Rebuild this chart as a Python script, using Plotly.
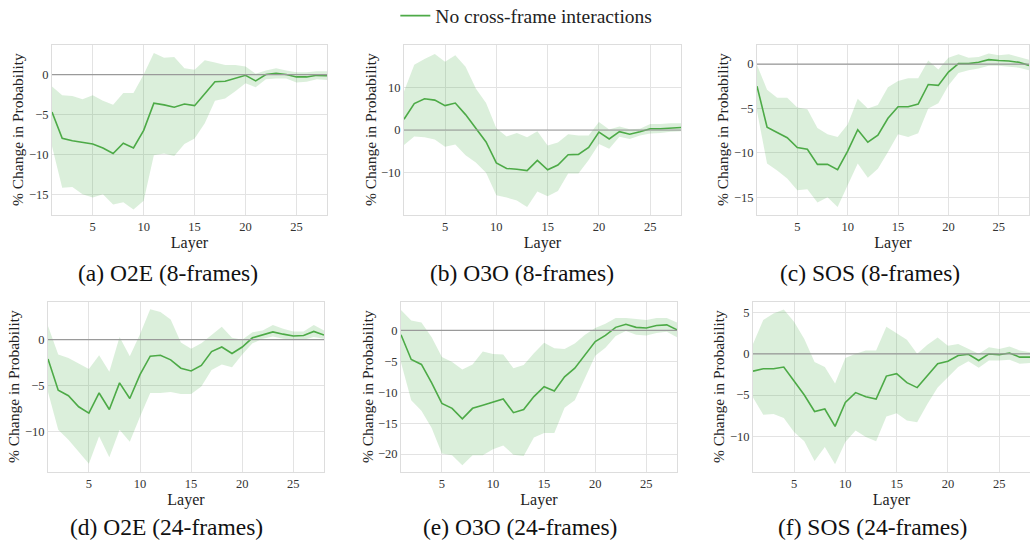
import plotly.graph_objects as go

layers = list(range(1, 29))

# (a) O2E (8-frames)
a_mean = [-4.7, -8.0, -8.3, -8.5, -8.7, -9.2, -9.9, -8.6, -9.2, -7.0, -3.6, -3.8, -4.1, -3.7,
          -3.9, -2.4, -0.9, -0.85, -0.5, -0.1, -0.8, 0.0, 0.15, 0.0, -0.3, -0.3, -0.1, -0.15]
a_upper = [-1.5, -2.6, -2.7, -3.1, -2.6, -3.3, -3.8, -2.3, -2.3, 0.0, 2.7, 2.1, 2.2, 0.8,
           0.6, 1.8, 1.5, 1.2, 1.2, 1.0, 0.1, 0.5, 0.8, 0.5, 0.3, 0.3, 0.4, 0.4]
a_lower = [-9.0, -14.2, -14.1, -15.0, -15.4, -15.0, -16.3, -16.0, -16.9, -15.8, -10.1, -9.9, -10.2, -8.7,
           -8.0, -6.1, -3.3, -3.0, -2.1, -1.1, -1.6, -0.6, -0.5, -0.5, -1.0, -0.9, -0.6, -0.7]

# (b) O3O (8-frames)
b_mean = [2.5, 6.2, 7.3, 7.0, 5.7, 6.3, 3.6, 0.3, -2.8, -7.7, -9.0, -9.2, -9.5, -7.1,
          -9.3, -8.2, -5.8, -5.7, -4.1, -0.5, -2.1, -0.4, -1.0, -0.4, 0.3, 0.3, 0.5, 0.6]
b_upper = [9.0, 15.3, 16.6, 17.8, 16.0, 17.5, 14.8, 9.7, 6.3, 0.4, -1.5, -0.7, -1.7, -0.3,
           -3.6, -2.9, -1.0, -1.3, -1.3, 1.9, 0.1, 0.8, 0.2, 0.3, 1.4, 1.4, 1.6, 1.6]
b_lower = [-3.5, -1.5, -1.7, -2.2, -3.9, -3.4, -5.9, -7.6, -10.0, -15.3, -15.8, -16.5, -18.0, -14.4,
           -15.5, -14.3, -10.2, -10.2, -7.0, -3.3, -4.4, -1.6, -2.1, -1.3, -0.8, -0.7, -0.4, -0.3]

# (c) SOS (8-frames)
c_mean = [-2.5, -7.1, -7.7, -8.3, -9.4, -9.6, -11.3, -11.3, -11.9, -9.8, -7.4, -8.8, -8.0, -6.1,
          -4.8, -4.8, -4.5, -2.3, -2.4, -0.9, 0.05, 0.05, 0.2, 0.5, 0.4, 0.35, 0.2, -0.15]
c_upper = [-0.1, -2.9, -3.8, -3.8, -4.9, -5.1, -7.2, -7.9, -8.2, -6.8, -3.9, -5.0, -4.6, -2.6,
           -1.9, -1.6, -1.6, 0.4, -0.6, 0.7, 1.1, 0.7, 0.8, 1.2, 1.0, 1.1, 0.8, 0.5]
c_lower = [-5.3, -11.2, -12.0, -12.9, -14.2, -14.1, -15.6, -15.0, -16.1, -13.7, -11.2, -12.8, -11.8, -9.9,
           -7.9, -8.2, -7.8, -5.0, -4.4, -2.4, -1.0, -0.7, -0.5, -0.2, -0.2, -0.3, -0.4, -0.7]

# (d) O2E (24-frames)
d_mean = [-2.1, -5.5, -6.1, -7.3, -8.0, -5.8, -7.6, -4.7, -6.4, -3.8, -1.8, -1.7, -2.2, -3.1,
          -3.4, -2.8, -1.3, -0.8, -1.5, -0.8, 0.2, 0.5, 0.85, 0.6, 0.4, 0.45, 0.9, 0.5]
d_upper = [1.5, -1.6, -2.0, -2.6, -3.2, -1.7, -3.5, 0.3, -1.8, 0.6, 3.3, 3.0, 2.2, -0.3,
           -1.0, -0.4, 0.5, 1.4, 0.2, 0.0, 0.8, 1.0, 1.6, 1.2, 0.9, 0.9, 1.6, 1.0]
d_lower = [-5.7, -9.8, -10.9, -12.2, -13.5, -10.5, -12.8, -9.8, -11.1, -8.4, -5.8, -5.8, -5.7, -5.9,
           -5.9, -5.1, -3.3, -2.7, -3.0, -1.6, -0.4, 0.1, 0.35, 0.1, 0.0, 0.0, 0.3, 0.1]

# (e) O3O (24-frames)
e_mean = [-0.7, -4.7, -5.5, -8.5, -11.8, -12.6, -14.3, -12.6, -12.1, -11.6, -11.1, -13.3, -12.8, -10.7,
          -9.1, -9.8, -7.5, -6.1, -3.9, -1.8, -0.8, 0.5, 1.0, 0.5, 0.4, 0.8, 0.9, 0.1]
e_upper = [3.3, 1.6, 1.3, -1.1, -4.3, -5.1, -6.3, -5.5, -3.4, -3.8, -3.9, -6.1, -5.6, -3.7,
           -2.0, -2.9, -3.0, -2.1, -0.7, 0.4, 1.1, 2.0, 2.0, 1.9, 1.7, 2.0, 2.0, 1.3]
e_lower = [-5.2, -11.3, -13.0, -15.8, -19.9, -20.2, -21.8, -20.2, -20.2, -19.2, -18.6, -20.1, -20.3, -17.3,
           -16.6, -16.6, -12.5, -11.3, -7.7, -4.1, -2.8, -0.9, -0.1, -0.7, -0.8, -0.4, -0.2, -1.1]

# (f) SOS (24-frames)
f_mean = [-2.1, -1.8, -1.8, -1.6, -3.3, -5.0, -7.0, -6.7, -8.8, -5.9, -4.7, -5.2, -5.5, -2.7,
          -2.4, -3.5, -4.1, -2.6, -1.2, -0.9, -0.2, -0.05, -0.8, 0.0, -0.1, 0.1, -0.4, -0.4]
f_upper = [1.2, 4.1, 4.9, 5.4, 3.9, 1.8, -1.0, -1.6, -3.6, -0.5, 0.0, 0.4, 0.4, 3.3,
           2.5, 1.7, 0.0, 1.1, 2.0, 1.0, 1.2, 0.6, 0.0, 0.8, 0.6, 0.9, 0.4, 0.2]
f_lower = [-5.3, -7.4, -7.3, -7.8, -9.5, -10.6, -13.0, -11.3, -13.4, -10.7, -9.3, -10.1, -10.6, -7.6,
           -7.2, -8.1, -8.3, -6.1, -4.1, -2.8, -1.6, -0.9, -1.7, -0.8, -0.8, -0.7, -1.2, -1.1]

captions = ["(a) O2E (8-frames)", "(b) O3O (8-frames)", "(c) SOS (8-frames)",
            "(d) O2E (24-frames)", "(e) O3O (24-frames)", "(f) SOS (24-frames)"]
series_name = "No cross-frame interactions"
x_title = "Layer"
y_title = "% Change in Probability"

panels = [
    (a_mean, a_upper, a_lower),
    (b_mean, b_upper, b_lower),
    (c_mean, c_upper, c_lower),
    (d_mean, d_upper, d_lower),
    (e_mean, e_upper, e_lower),
    (f_mean, f_upper, f_lower),
]

W, H = 1030, 542
# pixel boxes: (left, right, top, bottom)
boxes = [
    (52, 327, 45, 215), (404, 681, 45, 215), (757, 1029, 45, 215),
    (48, 324, 302, 472), (401, 677, 302, 472), (753, 1030, 302, 472),
]
yranges = [[-17.6, 3.7], [-19.9, 19.9], [-17.0, 2.15],
           [-14.4, 4.1], [-22.9, 4.6], [-14.35, 6.3]]
ydticks = [5, 10, 5, 5, 5, 5]
caption_x = [168, 522, 870, 166, 520, 872]
caption_y = [273, 527]
ytitle_x = [17, 370, 722, 13, 367, 718]

LINE = "#4daa47"
FILL = "rgba(77,175,74,0.2)"
FONT = "Liberation Serif, Times New Roman, serif"


def fnt(size, color="#222"):
    return dict(family=FONT, size=size, color=color)


fig = go.Figure()
layout = {}
annotations = []
shapes = []
for i, (mean, upper, lower) in enumerate(panels):
    n = i + 1
    xa = "x" if n == 1 else f"x{n}"
    ya = "y" if n == 1 else f"y{n}"
    fig.add_trace(go.Scatter(x=layers, y=upper, mode="lines", line=dict(width=0),
                             hoverinfo="skip", showlegend=False, xaxis=xa, yaxis=ya))
    fig.add_trace(go.Scatter(x=layers, y=lower, mode="lines", line=dict(width=0),
                             fill="tonexty", fillcolor=FILL, hoverinfo="skip",
                             showlegend=False, xaxis=xa, yaxis=ya))
    fig.add_trace(go.Scatter(x=layers, y=mean, mode="lines", name=series_name,
                             line=dict(color=LINE, width=1.6), showlegend=(i == 0),
                             xaxis=xa, yaxis=ya))
    l, r, t, b = boxes[i]
    xkey = "xaxis" if n == 1 else f"xaxis{n}"
    ykey = "yaxis" if n == 1 else f"yaxis{n}"
    layout[xkey] = dict(domain=[l / W, r / W], range=[1, 28], anchor=ya, automargin=False,
                        tickvals=[5, 10, 15, 20, 25], showgrid=True, gridcolor="#e3e3e3",
                        showline=True, mirror=True, linecolor="#dddddd", linewidth=1,
                        zeroline=False, ticks="", tickfont=fnt(12.5, "#333"),
                        title=dict(text=x_title, font=fnt(16), standoff=0))
    layout[ykey] = dict(domain=[1 - b / H, 1 - t / H], range=yranges[i], anchor=xa,
                        automargin=False,
                        dtick=ydticks[i], showgrid=True, gridcolor="#e3e3e3",
                        showline=True, mirror=True, linecolor="#dddddd", linewidth=1,
                        zeroline=False, ticks="", tickfont=fnt(12.5, "#333"))
    shapes.append(dict(type="line", xref=f"{xa} domain", yref=ya, x0=0, x1=1, y0=0, y1=0,
                       line=dict(color="#9a9a9a", width=1.2), layer="above"))
    annotations.append(dict(text=y_title, xref="paper", yref=f"{ya} domain",
                            x=ytitle_x[i] / W, y=0.5, textangle=-90,
                            xanchor="center", yanchor="middle", showarrow=False,
                            font=fnt(15.5)))
    annotations.append(dict(text=captions[i], xref="paper", yref="paper",
                            x=caption_x[i] / W, y=1 - caption_y[i // 3] / H,
                            xanchor="center", yanchor="middle", showarrow=False,
                            font=fnt(23.5, "#111")))

fig.update_layout(
    width=W, height=H,
    margin=dict(l=0, r=0, t=0, b=0, autoexpand=False),
    paper_bgcolor="white", plot_bgcolor="white",
    font=fnt(14),
    showlegend=True,
    legend=dict(orientation="h", x=0.511, xanchor="center", y=1 - 16 / H, yanchor="middle",
                font=fnt(19.5), bgcolor="rgba(0,0,0,0)"),
    annotations=annotations,
    shapes=shapes,
    **layout,
)

fig.write_html("out.html", config={"displayModeBar": False},
               post_script="document.body.style.margin='0';document.body.style.overflow='hidden';")
